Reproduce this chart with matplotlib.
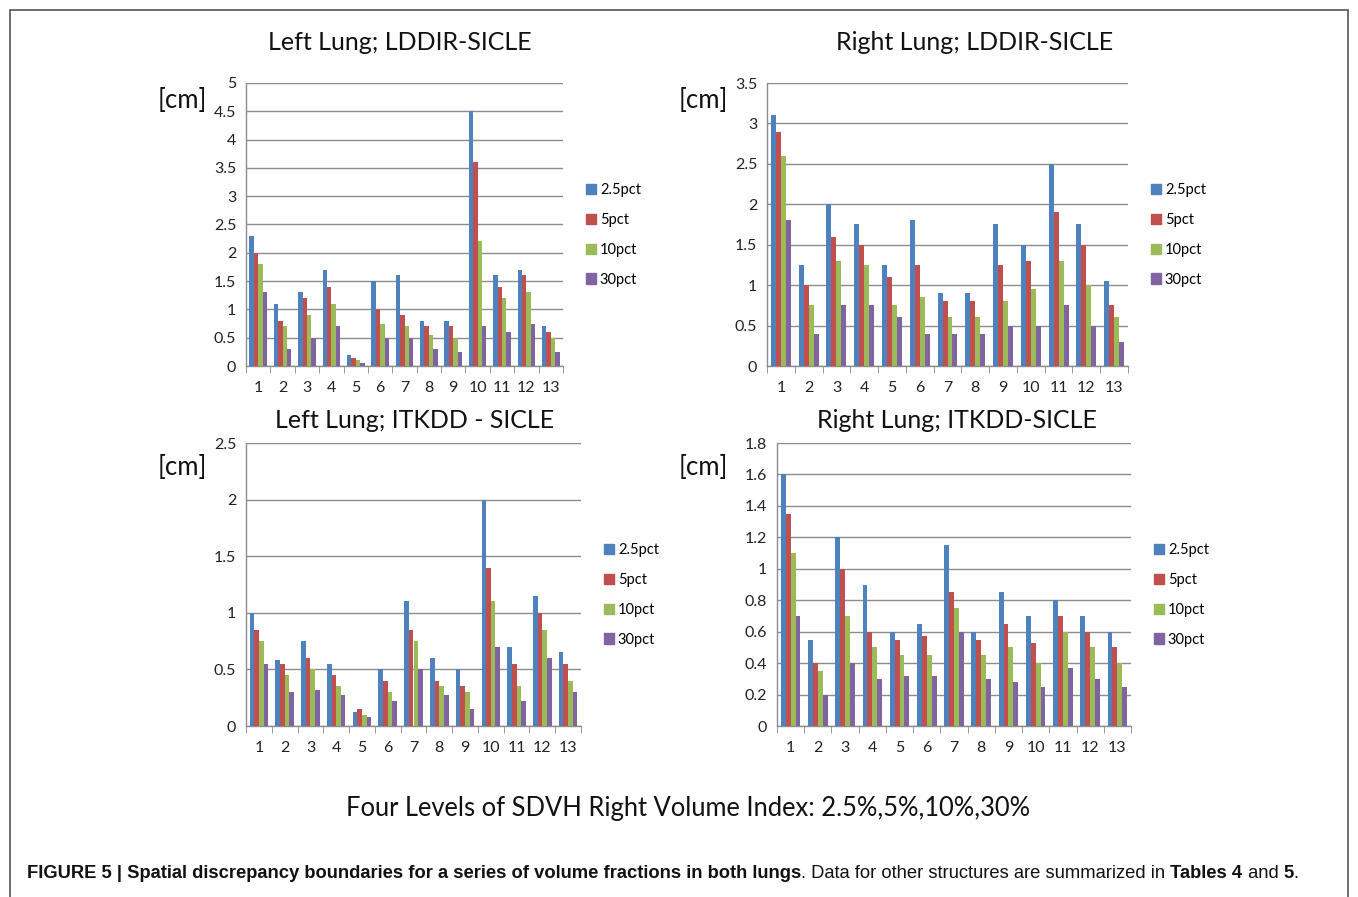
import matplotlib.pyplot as plt
import numpy as np
from matplotlib.patches import Patch, Rectangle

plt.rcParams['font.family'] = ['Lato', 'DejaVu Sans']

# data
categories = [str(i) for i in range(1, 14)]
series = ['2.5pct', '5pct', '10pct', '30pct']
colors = ['#4F81BD', '#C0504D', '#9BBB59', '#8064A2']

ll_lddir = [
    [2.3, 1.1, 1.3, 1.7, 0.2, 1.5, 1.6, 0.8, 0.8, 4.5, 1.6, 1.7, 0.7],
    [2.0, 0.8, 1.2, 1.4, 0.15, 1.0, 0.9, 0.7, 0.7, 3.6, 1.4, 1.6, 0.6],
    [1.8, 0.7, 0.9, 1.1, 0.1, 0.75, 0.7, 0.55, 0.5, 2.2, 1.2, 1.3, 0.5],
    [1.3, 0.3, 0.5, 0.7, 0.05, 0.5, 0.5, 0.3, 0.25, 0.7, 0.6, 0.75, 0.25],
]
rl_lddir = [
    [3.1, 1.25, 2.0, 1.75, 1.25, 1.8, 0.9, 0.9, 1.75, 1.5, 2.5, 1.75, 1.05],
    [2.9, 1.0, 1.6, 1.5, 1.1, 1.25, 0.8, 0.8, 1.25, 1.3, 1.9, 1.5, 0.75],
    [2.6, 0.75, 1.3, 1.25, 0.75, 0.85, 0.6, 0.6, 0.8, 0.95, 1.3, 1.0, 0.6],
    [1.8, 0.4, 0.75, 0.75, 0.6, 0.4, 0.4, 0.4, 0.5, 0.5, 0.75, 0.5, 0.3],
]
ll_itkdd = [
    [1.0, 0.58, 0.75, 0.55, 0.12, 0.5, 1.1, 0.6, 0.5, 2.0, 0.7, 1.15, 0.65],
    [0.85, 0.55, 0.6, 0.45, 0.15, 0.4, 0.85, 0.4, 0.35, 1.4, 0.55, 1.0, 0.55],
    [0.75, 0.45, 0.5, 0.35, 0.1, 0.3, 0.75, 0.35, 0.3, 1.1, 0.35, 0.85, 0.4],
    [0.55, 0.3, 0.32, 0.27, 0.08, 0.22, 0.5, 0.27, 0.15, 0.7, 0.22, 0.6, 0.3],
]
rl_itkdd = [
    [1.6, 0.55, 1.2, 0.9, 0.6, 0.65, 1.15, 0.6, 0.85, 0.7, 0.8, 0.7, 0.6],
    [1.35, 0.4, 1.0, 0.6, 0.55, 0.57, 0.85, 0.55, 0.65, 0.53, 0.7, 0.6, 0.5],
    [1.1, 0.35, 0.7, 0.5, 0.45, 0.45, 0.75, 0.45, 0.5, 0.4, 0.6, 0.5, 0.4],
    [0.7, 0.2, 0.4, 0.3, 0.32, 0.32, 0.6, 0.3, 0.28, 0.25, 0.37, 0.3, 0.25],
]

W, H = 1358, 897
fig = plt.figure(figsize=(W / 100, H / 100), dpi=100)


def fx(px):
    return px / W


def fy(py):
    return 1 - py / H


# (data, title, ymax, ystep, axes px box, title x, title y, legend x, legend y, cm x, cm y)
panels = [
    (ll_lddir, 'Left Lung; LDDIR-SICLE', 5, 0.5, (246, 83, 563, 366), 400, 43, 586, 235, 182, 100),
    (rl_lddir, 'Right Lung; LDDIR-SICLE', 3.5, 0.5, (767, 83, 1128, 366), 975, 43, 1151, 235, 703, 100),
    (ll_itkdd, 'Left Lung; ITKDD - SICLE', 2.5, 0.5, (246, 443, 581, 726), 415, 420, 604, 595, 182, 467),
    (rl_itkdd, 'Right Lung; ITKDD-SICLE', 1.8, 0.2, (777, 443, 1131, 726), 957, 420, 1154, 595, 703, 467),
]

x = np.arange(len(categories))
bw = 0.18
grey = '#8C8C8C'
ink = '#111111'

for data, title, ymax, ystep, box, tx, ty, lx, ly, cx, cy in panels:
    x0, y0, x1, y1 = box
    ax = fig.add_axes([fx(x0), fy(y1), fx(x1) - fx(x0), fy(y0) - fy(y1)])
    for i, vals in enumerate(data):
        ax.bar(x + (i - 1.5) * bw, vals, bw, color=colors[i], label=series[i], zorder=3)
    ax.set_xlim(-0.5, len(categories) - 0.5)
    ax.set_ylim(0, ymax)
    yt = np.round(np.arange(0, ymax + 1e-9, ystep), 2)
    ax.set_yticks(yt)
    ax.set_yticklabels(['{:g}'.format(v) for v in yt])
    ax.set_xticks(x)
    ax.set_xticklabels(categories)
    ax.set_xticks(np.arange(-0.5, len(categories)), minor=True)
    ax.tick_params(axis='x', which='major', length=0, pad=11, labelsize=11.5, colors='#222222')
    ax.tick_params(axis='x', which='minor', length=5, color=grey, direction='out')
    ax.tick_params(axis='y', length=0, pad=7, labelsize=11.5, colors='#222222')
    ax.yaxis.grid(True, color=grey, linewidth=1, zorder=0)
    ax.set_axisbelow(True)
    for s in ['top', 'right']:
        ax.spines[s].set_visible(False)
    for s in ['left', 'bottom']:
        ax.spines[s].set_color(grey)
        ax.spines[s].set_linewidth(1)

    handles = [Patch(color=c) for c in colors]
    ax.legend(handles, series, loc='center left', bbox_to_anchor=(fx(lx), fy(ly)),
              bbox_transform=fig.transFigure, frameon=False, fontsize=10.5,
              handlelength=0.7, handleheight=0.7, handletextpad=0.25,
              labelspacing=1.08, borderpad=0, borderaxespad=0)

    fig.text(fx(tx), fy(ty), title, ha='center', va='center', fontsize=18, color=ink)
    fig.text(fx(cx), fy(cy), '[cm]', ha='center', va='center', fontsize=18.5, color=ink)

fig.text(fx(688), fy(808), 'Four Levels of SDVH Right Volume Index: 2.5%,5%,10%,30%',
         ha='center', va='center', fontsize=18.4, color=ink)

# caption: bold and regular pieces, each placed right after the previous one
cap_font = ['Liberation Sans', 'DejaVu Sans']
pieces = [
    ('FIGURE 5 | Spatial discrepancy boundaries for a series of volume fractions in both lungs', 'bold'),
    ('. Data for other structures are summarized in ', 'normal'),
    ('Tables 4', 'bold'),
    (' and ', 'normal'),
    ('5', 'bold'),
    ('.', 'normal'),
]
prev = fig.text(fx(27), fy(873), pieces[0][0], ha='left', va='center', fontsize=13.2,
                fontweight=pieces[0][1], family=cap_font, color=ink)
for txt, wt in pieces[1:]:
    prev = fig.add_artist(plt.Annotation(txt, xy=(1, 0.5), xycoords=prev, ha='left',
                                         va='center', fontsize=13.2, fontweight=wt,
                                         family=cap_font, color=ink, annotation_clip=False))

# thin frame around the whole figure
fig.patches.append(Rectangle((fx(10), -0.01), fx(1348) - fx(10), fy(10) + 0.01,
                             transform=fig.transFigure, fill=False, edgecolor='#555555',
                             linewidth=1.2))

fig.savefig('out.png', dpi=100)
